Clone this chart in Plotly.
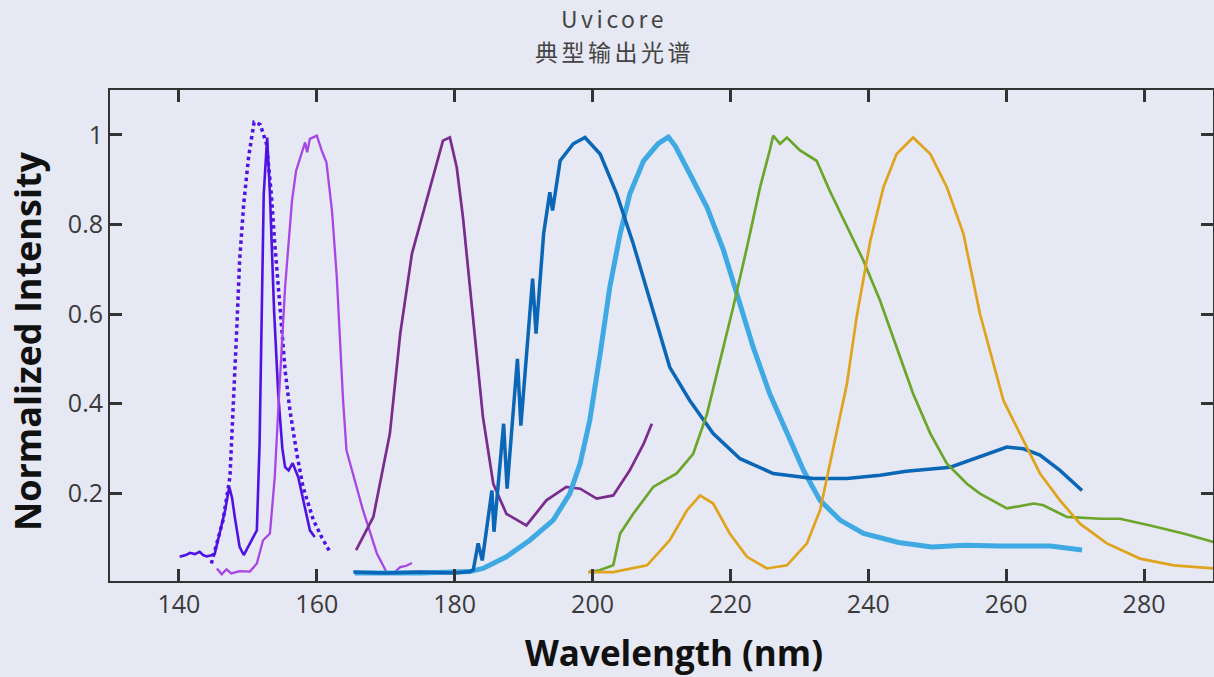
import plotly.graph_objects as go

# ---- data ----
violet_x = [140.1, 141.0, 141.6, 142.3, 143.0, 143.5, 144.0, 144.6, 145.2, 145.9, 146.7, 147.3, 147.7,
            148.1, 148.8, 149.4, 150.3, 150.9, 151.3, 151.7, 152.0, 152.3, 152.8, 153.2, 153.8, 154.4,
            155.0, 155.4, 155.9, 156.5, 157.3, 158.3, 159.0, 159.7]
violet_y = [0.058, 0.062, 0.067, 0.064, 0.069, 0.062, 0.059, 0.061, 0.065, 0.110, 0.162, 0.214, 0.190,
            0.147, 0.080, 0.062, 0.088, 0.105, 0.117, 0.311, 0.608, 0.868, 0.994, 0.868, 0.608, 0.422,
            0.300, 0.258, 0.251, 0.267, 0.236, 0.162, 0.117, 0.102]

violet_dot_x = [144.7, 145.5, 146.4, 147.4, 147.9, 148.4, 148.8, 149.4, 150.1, 150.9, 151.8, 152.7,
                153.4, 153.9, 154.7, 155.4, 156.1, 157.1, 158.0, 159.5, 160.7, 161.9]
violet_dot_y = [0.043, 0.088, 0.140, 0.236, 0.385, 0.571, 0.719, 0.846, 0.950, 1.028, 1.023, 0.980,
                0.868, 0.757, 0.608, 0.474, 0.385, 0.288, 0.214, 0.140, 0.102, 0.069]

orchid_x = [145.5, 146.2, 146.9, 147.6, 148.8, 150.3, 151.3, 152.2, 153.2, 153.9, 154.4, 154.9, 155.4,
            155.9, 156.4, 157.0, 157.8, 158.3, 158.6, 159.0, 160.0, 160.7, 161.4, 162.2, 162.9, 163.4,
            163.8, 164.3, 165.5, 166.7, 168.7, 170.1, 171.1, 172.1, 173.0, 173.8]
orchid_y = [0.032, 0.019, 0.030, 0.021, 0.026, 0.025, 0.043, 0.095, 0.110, 0.236, 0.385, 0.534, 0.660,
            0.757, 0.853, 0.920, 0.957, 0.983, 0.961, 0.991, 0.998, 0.965, 0.938, 0.831, 0.682, 0.534,
            0.410, 0.296, 0.230, 0.162, 0.066, 0.024, 0.021, 0.035, 0.038, 0.044]

plum_x = [165.7, 168.2, 170.6, 172.1, 173.8, 175.4, 176.9, 178.3, 179.3, 180.3, 181.2, 182.2, 183.2,
          184.1, 185.6, 187.5, 190.4, 193.3, 196.2, 198.2, 200.6, 203.0, 205.4, 207.4, 208.6]
plum_y = [0.073, 0.147, 0.333, 0.556, 0.735, 0.824, 0.905, 0.987, 0.994, 0.927, 0.816, 0.667, 0.519,
          0.370, 0.221, 0.154, 0.128, 0.184, 0.214, 0.210, 0.188, 0.195, 0.251, 0.310, 0.355]

sky_x = [165.5, 175.0, 182.2, 184.1, 187.5, 190.9, 194.3, 196.7, 198.2, 199.6, 201.1, 202.5, 204.0,
         205.4, 207.4, 209.5, 211.0, 212.0, 214.1, 216.6, 219.0, 220.9, 223.3, 225.7, 228.2, 230.6,
         233.0, 235.9, 239.3, 244.4, 249.2, 254.0, 259.1, 266.4, 271.0]
sky_y = [0.022, 0.022, 0.025, 0.032, 0.058, 0.095, 0.140, 0.199, 0.266, 0.363, 0.511, 0.660, 0.779,
         0.868, 0.942, 0.980, 0.995, 0.975, 0.913, 0.838, 0.742, 0.645, 0.526, 0.422, 0.333, 0.251,
         0.184, 0.140, 0.110, 0.090, 0.080, 0.084, 0.082, 0.082, 0.073]

navy_x = [165.3, 170.0, 175.0, 180.0, 182.2, 182.7, 183.4, 184.0, 185.4, 185.7, 187.1, 187.6, 189.1,
          189.6, 191.3, 191.8, 192.9, 193.8, 194.2, 195.3, 197.2, 198.9, 201.1, 203.5, 205.9, 208.3,
          211.2, 214.1, 217.5, 221.4, 226.2, 232.0, 236.9, 241.7, 245.5, 251.9, 256.7, 260.1, 262.5,
          264.9, 267.8, 271.0]
navy_y = [0.024, 0.022, 0.024, 0.022, 0.025, 0.029, 0.088, 0.050, 0.206, 0.114, 0.355, 0.210, 0.500,
          0.351, 0.679, 0.556, 0.779, 0.872, 0.831, 0.942, 0.980, 0.994, 0.957, 0.868, 0.757, 0.630,
          0.481, 0.407, 0.333, 0.277, 0.244, 0.233, 0.233, 0.240, 0.249, 0.258, 0.285, 0.303, 0.299,
          0.285, 0.251, 0.206]

green_x = [199.4, 201.0, 203.0, 204.0, 205.9, 208.8, 212.2, 214.6, 216.6, 218.5, 220.4, 222.4, 224.3,
           225.7, 226.2, 227.2, 228.2, 230.1, 232.5, 234.4, 236.9, 238.3, 239.3, 241.7, 244.1, 246.5,
           249.0, 251.4, 254.3, 256.2, 260.1, 264.0, 265.4, 268.8, 273.6, 276.5, 280.9, 285.7, 290.1]
green_y = [0.024, 0.028, 0.039, 0.110, 0.154, 0.214, 0.244, 0.288, 0.377, 0.496, 0.615, 0.749, 0.883,
           0.965, 0.998, 0.980, 0.994, 0.965, 0.942, 0.875, 0.794, 0.749, 0.719, 0.630, 0.526, 0.422,
           0.333, 0.266, 0.221, 0.199, 0.166, 0.177, 0.173, 0.147, 0.143, 0.143, 0.128, 0.110, 0.091]

gold_x = [199.4, 203.0, 207.9, 211.2, 213.7, 215.6, 217.5, 219.9, 222.4, 225.3, 228.2, 231.1, 233.0,
          234.9, 236.9, 238.3, 240.3, 242.2, 244.1, 246.5, 249.0, 251.4, 253.8, 256.2, 259.6, 262.0,
          264.9, 267.8, 270.7, 274.6, 279.4, 284.3, 290.1]
gold_y = [0.024, 0.024, 0.039, 0.095, 0.162, 0.195, 0.177, 0.110, 0.058, 0.032, 0.039, 0.088, 0.162,
          0.296, 0.444, 0.593, 0.764, 0.883, 0.957, 0.994, 0.957, 0.883, 0.779, 0.600, 0.407, 0.333,
          0.244, 0.184, 0.132, 0.088, 0.054, 0.039, 0.032]

x_ticks = [140, 160, 180, 200, 220, 240, 260, 280]
y_ticks = [0.2, 0.4, 0.6, 0.8, 1]
y_tick_text = ["0.2", "0.4", "0.6", "0.8", "1"]

# ---- figure ----
BG = "#e6e8f3"
fig = go.Figure()

series = [
    (violet_dot_x, violet_dot_y, "#4f12e4", 3.5, "dot"),
    (violet_x, violet_y, "#4f12e4", 2.6, "solid"),
    (orchid_x, orchid_y, "#a845e6", 2.3, "solid"),
    (plum_x, plum_y, "#7a2b8e", 2.7, "solid"),
    (sky_x, sky_y, "#3ea9e3", 5, "solid"),
    (navy_x, navy_y, "#0a66b6", 3.5, "solid"),
    (green_x, green_y, "#6ba52a", 2.7, "solid"),
    (gold_x, gold_y, "#e0a31c", 2.7, "solid"),
]
for xs, ys, col, w, dash in series:
    fig.add_trace(go.Scatter(x=xs, y=ys, mode="lines",
                             line=dict(color=col, width=w, dash=dash),
                             hoverinfo="skip", showlegend=False))

axis_common = dict(
    showline=True, linecolor="#333333", linewidth=2,
    mirror="ticks", ticks="inside", ticklen=12, tickwidth=2.5, tickcolor="#333333",
    showgrid=False, zeroline=False,
    tickfont=dict(family="Open Sans", size=25, color="#3a3a3a"),
)

fig.update_xaxes(range=[130, 290], tickvals=x_ticks, ticklabelstandoff=0, **axis_common)
fig.update_yaxes(range=[0.004, 1.1], tickvals=y_ticks, ticktext=y_tick_text, ticklabelstandoff=0,
                 **axis_common)

title_font = dict(family="Open Sans", size=35, color="#111111")
fig.add_annotation(text="<b>Wavelength (nm)</b>", xref="paper", yref="paper",
                   x=0.511, y=-0.1466, xanchor="center", yanchor="middle",
                   showarrow=False, font=title_font)
fig.add_annotation(text="<b>Normalized Intensity</b>", xref="paper", yref="paper",
                   x=-0.0743, y=0.4888, xanchor="center", yanchor="middle",
                   textangle=-90, showarrow=False, font=dict(title_font, size=36))

fig.add_annotation(text='<span style="letter-spacing:3.5px">Uvicore</span>',
                   xref="paper", yref="paper", x=0.457, y=1.146, showarrow=False,
                   xanchor="center", yanchor="middle",
                   font=dict(family="Noto Sans CJK SC", size=23, color="#444444"))
fig.add_annotation(text='<span style="letter-spacing:3.5px">典型输出光谱</span>',
                   xref="paper", yref="paper", x=0.457, y=1.080, showarrow=False,
                   xanchor="center", yanchor="middle",
                   font=dict(family="Noto Sans CJK SC", size=23, color="#444444"))

fig.update_layout(
    width=1214, height=677,
    margin=dict(l=110, r=1, t=90, b=96, autoexpand=False),
    paper_bgcolor=BG, plot_bgcolor=BG,
)

fig.write_html("out.html",
               config={"displayModeBar": False},
               post_script="document.body.style.margin='0';document.body.style.padding='0';"
                           "document.body.style.background='" + BG + "';")
